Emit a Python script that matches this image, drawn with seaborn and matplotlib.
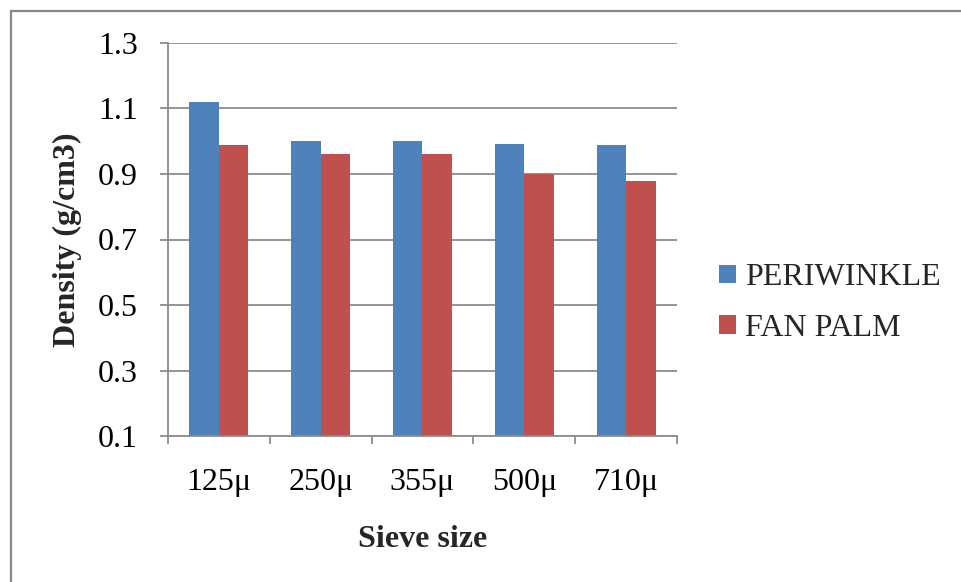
import matplotlib
matplotlib.use("Agg")
import matplotlib.pyplot as plt
import seaborn as sns
import pandas as pd
from matplotlib.patches import Patch
from matplotlib.lines import Line2D

categories = ["125μ", "250μ", "355μ", "500μ", "710μ"]
periwinkle = [1.12, 1.00, 1.00, 0.993, 0.99]
fan_palm = [0.99, 0.96, 0.96, 0.90, 0.88]
series_names = ["PERIWINKLE", "FAN PALM"]
colors = ["#4F81BD", "#C0504D"]
y_ticks = [0.1, 0.3, 0.5, 0.7, 0.9, 1.1, 1.3]

df = pd.DataFrame({
    "Sieve size": categories * 2,
    "Density": periwinkle + fan_palm,
    "Series": [series_names[0]] * len(categories) + [series_names[1]] * len(categories),
})

sns.set_theme(style="white")
plt.rcParams["font.family"] = ["Liberation Serif", "DejaVu Serif"]

FS = 23

fig = plt.figure(figsize=(9.62, 5.82), dpi=100)
ax = fig.add_axes([168 / 962, 1 - 436 / 582, (677 - 168) / 962, (436 - 43) / 582])

sns.barplot(data=df, x="Sieve size", y="Density", hue="Series", order=categories,
            hue_order=series_names, palette=colors, width=0.58, gap=0,
            saturation=1, edgecolor="none", linewidth=0, legend=False, ax=ax)

ax.set_xlim(-0.5, len(categories) - 0.5)
ax.set_ylim(0.1, 1.3)
ax.set_yticks(y_ticks)
ax.set_yticklabels([f"{v:.1f}" for v in y_ticks])
ax.yaxis.grid(True, color="#8c8c8c", linewidth=1.3)
ax.set_axisbelow(True)

grey = "#8c8c8c"
for s in ["top", "right"]:
    ax.spines[s].set_visible(False)
for s in ["left", "bottom"]:
    ax.spines[s].set_color(grey)
    ax.spines[s].set_linewidth(1.3)

ax.set_xticks(range(len(categories)))
ax.set_xticklabels(categories)
ax.set_xticks([i - 0.5 for i in range(len(categories) + 1)], minor=True)
ax.tick_params(axis="x", which="major", length=0, pad=23, labelsize=FS, colors="black")
ax.tick_params(axis="x", which="minor", length=5.8, width=1.3, color=grey, direction="out", bottom=True)
ax.tick_params(axis="y", which="major", length=5.8, width=1.3, color=grey, direction="out",
               pad=16, labelsize=FS, left=True, labelcolor="black")

ax.set_xlabel("Sieve size", fontsize=FS, fontweight="bold", labelpad=20)
ax.set_ylabel("Density (g/cm3)", fontsize=FS, fontweight="bold", labelpad=11)

handles = [Patch(facecolor=c, edgecolor="none") for c in colors]
fig.legend(handles, series_names, loc="center left", bbox_to_anchor=(719 / 962, 1 - 303 / 582),
           frameon=False, fontsize=FS, handlelength=0.52, handleheight=0.52,
           handletextpad=0.3, labelspacing=0.68, borderpad=0, borderaxespad=0)

bc = "#878787"
fig.add_artist(Line2D([11 / 962, 11 / 962], [0, 1 - 11 / 582], color=bc, linewidth=1.6,
                      transform=fig.transFigure))
fig.add_artist(Line2D([11 / 962, 1], [1 - 11 / 582, 1 - 11 / 582], color=bc, linewidth=1.6,
                      transform=fig.transFigure))

fig.savefig("out.png", dpi=100)
